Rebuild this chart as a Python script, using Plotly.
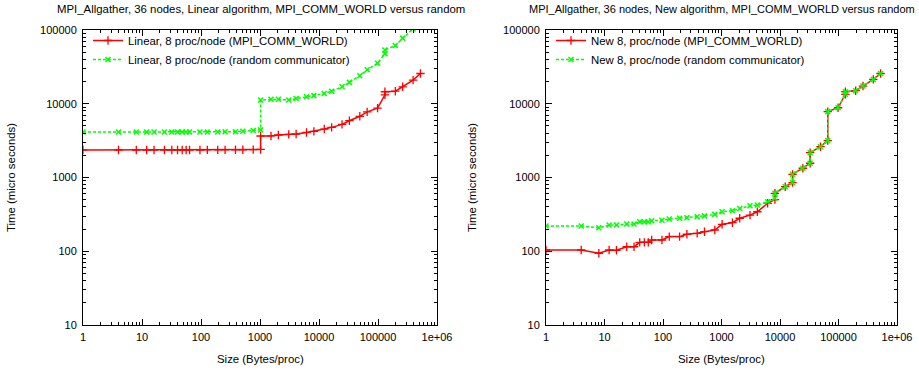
import plotly.graph_objects as go

# ---------------- data ----------------
size_linear = [1, 4, 8, 12, 16, 24, 32, 40, 48, 56, 64, 96, 128, 192, 256, 384, 512, 768,
               1024, 1024, 1536, 2048, 3072, 4096, 6144, 8192, 12288, 16384, 24576, 32768,
               49152, 65536, 98304, 131072, 131072, 196608, 262144, 393216, 524288]
linear_world = [2360, 2360, 2360, 2360, 2360, 2360, 2360, 2360, 2360, 2360, 2360, 2360, 2370,
                2370, 2370, 2375, 2380, 2390, 2400, 3656, 3660, 3767, 3846, 3890, 4074, 4227,
                4539, 4786, 5248, 5888, 6761, 7762, 8710, 13183, 14555, 14791, 16982, 20893, 25704]
linear_random = [4140, 4140, 4140, 4140, 4140, 4140, 4140, 4140, 4140, 4140, 4140, 4140, 4140,
                 4150, 4160, 4170, 4250, 4330, 4420, 11220, 11482, 11482, 11220, 11749, 12474,
                 12882, 13804, 14791, 16982, 19498, 23988, 28840, 35481, 47863, 53703, 61660,
                 77625, 104000, 140000]

size_new = [1, 4, 8, 12, 16, 24, 32, 40, 48, 56, 64, 96, 128, 192, 256, 384, 512, 768, 1024,
            1536, 2048, 3072, 4096, 6144, 8192, 8192, 12288, 16384, 16384, 24576, 32768, 32768,
            49152, 65536, 65536, 98304, 131072, 131072, 196608, 262144, 393216, 524288]
new_world = [104, 104, 94, 104, 103, 115, 115, 132, 132, 132, 142, 142, 158, 158, 170, 175, 184,
             194, 232, 244, 280, 309, 343, 447, 501, 611, 750, 851, 1104, 1334, 1560, 2168, 2617,
             3162, 7816, 8830, 13430, 14560, 15030, 17380, 21380, 25700]
new_random = [220, 220, 208, 227, 227, 234, 234, 251, 251, 251, 259, 263, 274, 280, 285, 294, 302,
              316, 343, 355, 380, 414, 423, 468, 522, 611, 750, 851, 1104, 1334, 1560, 2168, 2617,
              3162, 7816, 8830, 13430, 14560, 15030, 17380, 21380, 25700]

x_tickvals = [1, 10, 100, 1000, 10000, 100000, 1000000]
x_ticktext = ["1", "10", "100", "1000", "10000", "100000", "1e+06"]
y_tickvals = [10, 100, 1000, 10000, 100000]
y_ticktext = ["10", "100", "1000", "10000", "100000"]

title_left = "MPI_Allgather, 36 nodes, Linear algorithm, MPI_COMM_WORLD versus random"
title_right = "MPI_Allgather, 36 nodes, New algorithm, MPI_COMM_WORLD versus random"

RED = "#ff0000"
GREEN = "#00ff00"
FONT = "Liberation Sans, Arial, sans-serif"
TXT = 11.4
TICK = 11

fig = go.Figure()

def add_pair(xs, y1, y2, n1, n2, xa, ya, leg):
    fig.add_trace(go.Scatter(
        x=xs, y=y1, name=n1, mode="lines+markers", xaxis=xa, yaxis=ya, legend=leg,
        line=dict(color=RED, width=1.5),
        marker=dict(symbol="cross-thin", size=6, color=RED, line=dict(color=RED, width=1.3)),
    ))
    fig.add_trace(go.Scatter(
        x=xs, y=y2, name=n2, mode="lines+markers", xaxis=xa, yaxis=ya, legend=leg,
        line=dict(color=GREEN, width=1.5, dash="3px,2px"),
        marker=dict(symbol="x-thin", size=5, color=GREEN, line=dict(color=GREEN, width=1.5)),
    ))

add_pair(size_linear, linear_world, linear_random,
         "Linear, 8 proc/node (MPI_COMM_WORLD)", "Linear, 8 proc/node (random communicator)",
         "x", "y", "legend")
add_pair(size_new, new_world, new_random,
         "New 8, proc/node (MPI_COMM_WORLD)", "New 8, proc/node (random communicator)",
         "x2", "y2", "legend2")

W, H = 919, 372
def px(v):
    return v / W
def py(v):
    return (H - v) / H

x_minor = [m * 10 ** e for e in range(0, 6) for m in range(2, 10)]
y_minor = [m * 10 ** e for e in range(1, 5) for m in range(2, 10)]

axis_common = dict(type="log", showgrid=False, zeroline=False, showline=True,
                   linecolor="black", linewidth=1, mirror="ticks", ticks="inside",
                   ticklen=6, tickcolor="black", tickwidth=1, automargin=False,
                   tickfont=dict(family=FONT, size=TICK, color="black"))
xcommon = dict(range=[0, 6], tickmode="array", tickvals=x_tickvals, ticktext=x_ticktext,
               ticklabelstandoff=2,
               minor=dict(tickmode="array", tickvals=x_minor, ticks="inside", ticklen=3,
                          tickcolor="black", tickwidth=1, showgrid=False),
               **axis_common)
ycommon = dict(range=[1, 5], tickmode="array", tickvals=y_tickvals, ticktext=y_ticktext,
               ticklabelstandoff=3,
               minor=dict(tickmode="array", tickvals=y_minor, ticks="inside", ticklen=3,
                          tickcolor="black", tickwidth=1, showgrid=False),
               **axis_common)

ydom = [py(325), py(30)]
fig.update_layout(
    width=W, height=H, margin=dict(l=0, r=0, t=0, b=0, pad=0, autoexpand=False),
    paper_bgcolor="white", plot_bgcolor="white",
    font=dict(family=FONT, size=TXT, color="black"),
    xaxis=dict(domain=[px(83), px(437)], anchor="y", **xcommon),
    yaxis=dict(domain=ydom, anchor="x", **ycommon),
    xaxis2=dict(domain=[px(546), px(897)], anchor="y2", **xcommon),
    yaxis2=dict(domain=ydom, anchor="x2", **ycommon),
    legend=dict(x=px(88), y=py(26), xanchor="left", yanchor="top",
                bgcolor="rgba(0,0,0,0)", font=dict(family=FONT, size=TXT, color="black")),
    legend2=dict(x=px(551), y=py(26), xanchor="left", yanchor="top",
                 bgcolor="rgba(0,0,0,0)", font=dict(family=FONT, size=TXT, color="black")),
    showlegend=True,
)

annos = [
    dict(text=title_left, x=px(261), y=py(9), size=TXT),
    dict(text=title_right, x=px(722), y=py(9), size=11.0),
    dict(text="Size (Bytes/proc)", x=px(260), y=py(359), size=TXT),
    dict(text="Size (Bytes/proc)", x=px(721), y=py(359), size=TXT),
    dict(text="Time (micro seconds)", x=px(11), y=py(178), textangle=-90, size=TXT),
    dict(text="Time (micro seconds)", x=px(472), y=py(178), textangle=-90, size=TXT),
]
for a in annos:
    s = a.pop("size")
    fig.add_annotation(xref="paper", yref="paper", showarrow=False,
                       xanchor="center", yanchor="middle",
                       font=dict(family=FONT, size=s, color="black"), **a)

fig.write_html("out.html")
